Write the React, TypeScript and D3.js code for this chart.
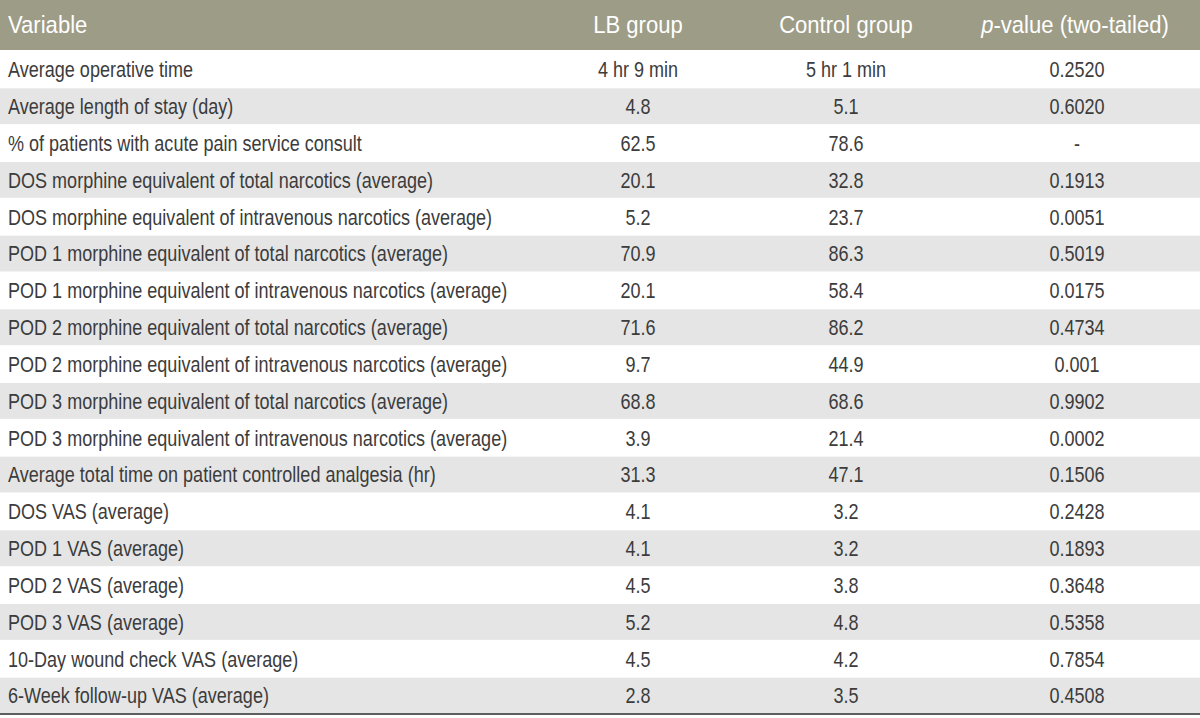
import React from "react";
import * as d3 from "d3";

const headers = ["Variable", "LB group", "Control group", "p-value (two-tailed)"];

const variables = [
  "Average operative time",
  "Average length of stay (day)",
  "% of patients with acute pain service consult",
  "DOS morphine equivalent of total narcotics (average)",
  "DOS morphine equivalent of intravenous narcotics (average)",
  "POD 1 morphine equivalent of total narcotics (average)",
  "POD 1 morphine equivalent of intravenous narcotics (average)",
  "POD 2 morphine equivalent of total narcotics (average)",
  "POD 2 morphine equivalent of intravenous narcotics (average)",
  "POD 3 morphine equivalent of total narcotics (average)",
  "POD 3 morphine equivalent of intravenous narcotics (average)",
  "Average total time on patient controlled analgesia (hr)",
  "DOS VAS (average)",
  "POD 1 VAS (average)",
  "POD 2 VAS (average)",
  "POD 3 VAS (average)",
  "10-Day wound check VAS (average)",
  "6-Week follow-up VAS (average)",
];

const lbGroup = [
  "4 hr 9 min", "4.8", "62.5", "20.1", "5.2", "70.9", "20.1", "71.6", "9.7",
  "68.8", "3.9", "31.3", "4.1", "4.1", "4.5", "5.2", "4.5", "2.8",
];

const controlGroup = [
  "5 hr 1 min", "5.1", "78.6", "32.8", "23.7", "86.3", "58.4", "86.2", "44.9",
  "68.6", "21.4", "47.1", "3.2", "3.2", "3.8", "4.8", "4.2", "3.5",
];

const pValues = [
  "0.2520", "0.6020", "-", "0.1913", "0.0051", "0.5019", "0.0175", "0.4734", "0.001",
  "0.9902", "0.0002", "0.1506", "0.2428", "0.1893", "0.3648", "0.5358", "0.7854", "0.4508",
];

const W = 1200;
const H = 718;
const FONT = "'Liberation Sans', Arial, sans-serif";
const BODY_FS = 22;
const BODY_SX = 0.82;
const HEAD_FS = 24;
const HEAD_SX = 0.92;

export default function App() {
  const rowIdx = d3.range(variables.length).map(String);
  const y = d3.scaleBand<string>().domain(rowIdx).range([51, 714]).paddingInner(0);
  const colX = [8, 638, 846, 1077];
  const headerX = [8, 638, 846, 1075];

  return (
    <svg
      width={W}
      height={H}
      style={{ position: "absolute", left: 0, top: 0, display: "block" }}
      fontFamily={FONT}
    >
      <rect x={0} y={0} width={W} height={H} fill="#ffffff" />
      <rect x={0} y={0} width={W} height={50} fill="#9d9c86" />
      {headers.map((h, i) => (
        <text
          key={h}
          transform={`translate(${headerX[i]},${33}) scale(${HEAD_SX},1)`}
          textAnchor={i === 0 ? "start" : "middle"}
          fill="#ffffff"
          fontSize={HEAD_FS}
        >
          {i === 3 ? (
            <>
              <tspan fontStyle="italic">p</tspan>
              <tspan>-value (two-tailed)</tspan>
            </>
          ) : (
            h
          )}
        </text>
      ))}
      {rowIdx.map((k, i) => {
        const y0 = y(k)!;
        const bh = y.bandwidth();
        const baseline = y0 + bh / 2 + 0.358 * BODY_FS;
        const cells = [variables[i], lbGroup[i], controlGroup[i], pValues[i]];
        return (
          <g key={k}>
            {i % 2 === 1 && (
              <rect x={0} y={y0 + 0.5} width={W} height={bh - 1} fill="#e5e5e5" />
            )}
            {cells.map((c, j) => (
              <text
                key={j}
                transform={`translate(${colX[j]},${baseline}) scale(${BODY_SX},1)`}
                textAnchor={j === 0 ? "start" : "middle"}
                fill="#3c3c3c"
                fontSize={BODY_FS}
              >
                {c}
              </text>
            ))}
          </g>
        );
      })}
      <rect x={0} y={713} width={W} height={2} fill="#5e5e5e" />
    </svg>
  );
}
